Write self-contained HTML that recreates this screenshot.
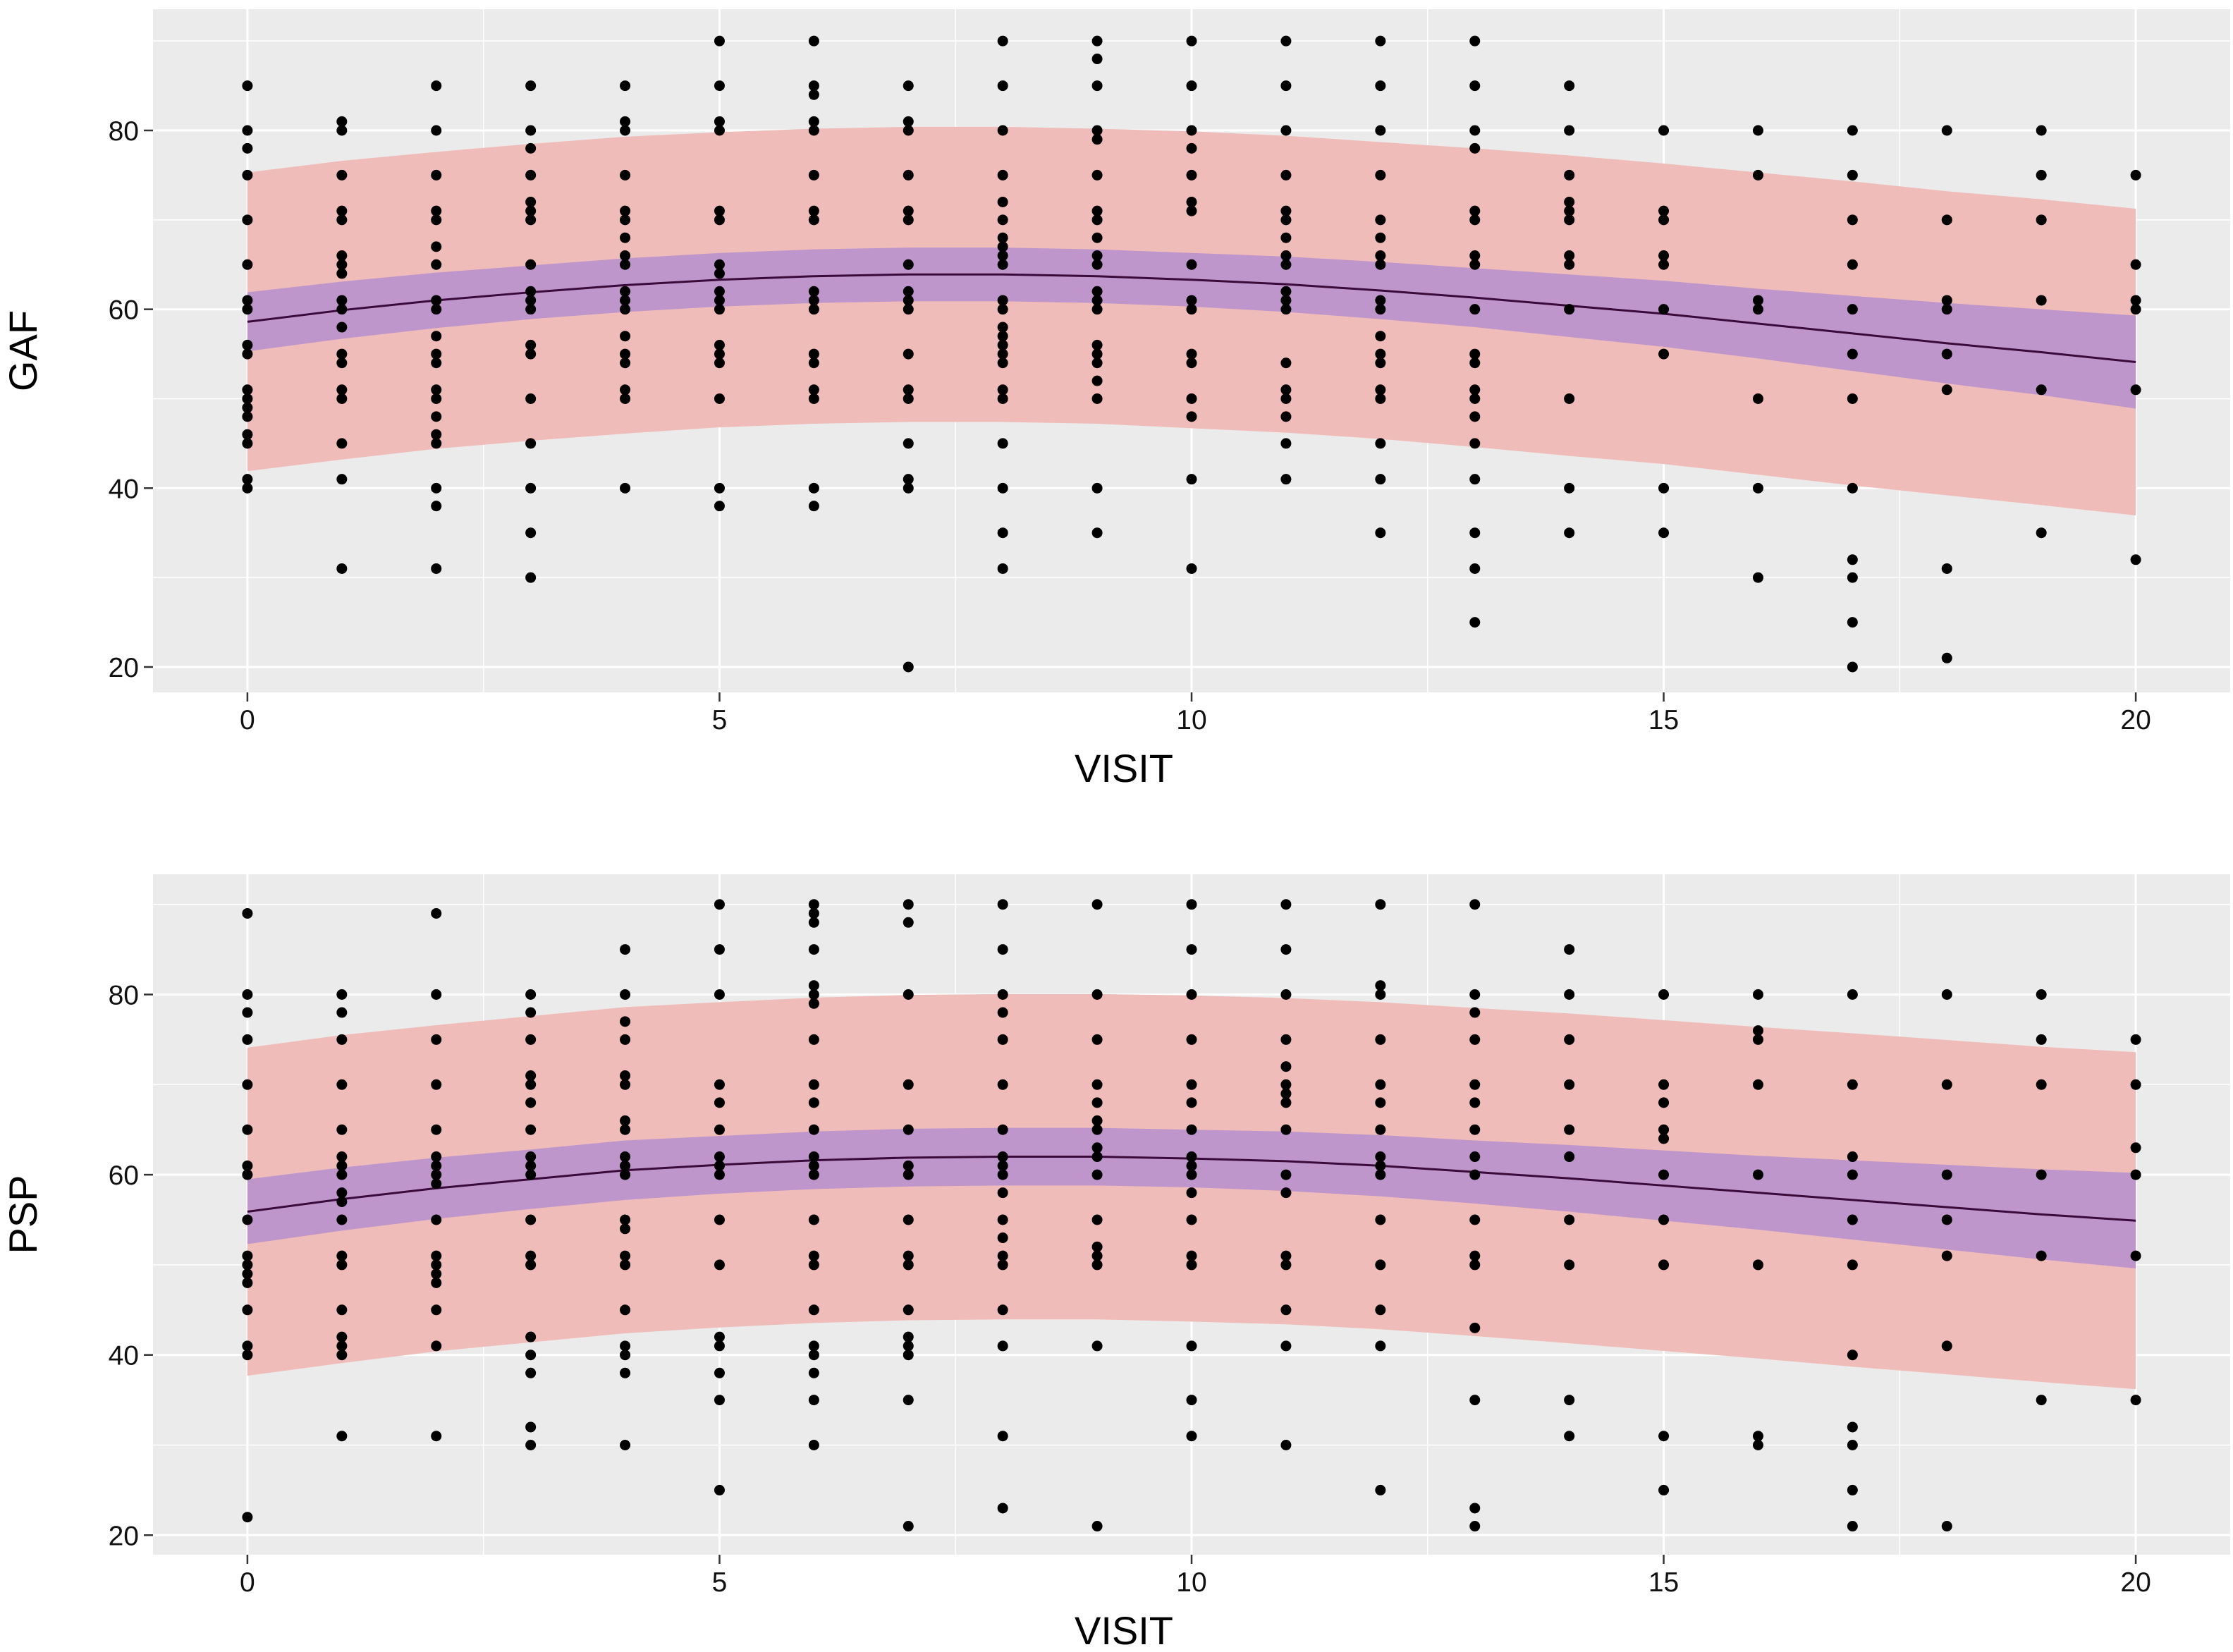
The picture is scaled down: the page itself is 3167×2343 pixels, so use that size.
<!DOCTYPE html>
<html><head><meta charset="utf-8"><style>
html,body{margin:0;padding:0;background:#fff;}
svg{display:block;font-family:"Liberation Sans",sans-serif;}
</style></head><body>
<svg id="chart" width="3167" height="2343" viewBox="0 0 3167 2343" xmlns="http://www.w3.org/2000/svg"></svg>
<script>
// ---------- data ----------
const visits = [0,1,2,3,4,5,6,7,8,9,10,11,12,13,14,15,16,17,18,19,20];
const xTicks = [0,5,10,15,20];
const yTicks = [20,40,60,80];

const gafPoints = [
 [85,80,78,75,70,65,61,60,56,55,51,50,49,48,46,45,41,40],
 [81,80,75,71,70,66,65,64,61,60,58,55,54,51,50,45,41,31],
 [85,80,75,71,70,67,65,61,60,57,55,54,51,50,48,46,45,40,38,31],
 [85,80,78,75,72,71,70,65,62,61,60,56,55,50,45,40,35,30],
 [85,81,80,75,71,70,68,66,65,62,61,60,57,55,54,51,50,40],
 [90,85,81,80,71,70,65,64,62,61,60,56,55,54,50,40,38],
 [90,85,84,81,80,75,71,70,62,61,60,55,54,51,50,40,38],
 [85,81,80,75,71,70,65,62,61,60,55,51,50,45,41,40,20],
 [90,85,80,75,72,70,68,67,66,65,61,60,58,57,56,55,54,51,50,45,40,35,31],
 [90,88,85,80,79,75,71,70,68,66,65,62,61,60,56,55,54,52,50,40,35],
 [90,85,80,78,75,72,71,65,61,60,55,54,50,48,41,31],
 [90,85,80,75,71,70,68,66,65,62,61,60,54,51,50,48,45,41],
 [90,85,80,75,70,68,66,65,61,60,57,55,54,51,50,45,41,35],
 [90,85,80,78,71,70,66,65,60,55,54,51,50,48,45,41,35,31,25],
 [85,80,75,72,71,70,66,65,60,50,40,35],
 [80,71,70,66,65,60,55,40,35],
 [80,75,61,60,50,40,30],
 [80,75,70,65,60,55,50,40,32,30,25,20],
 [80,70,61,60,55,51,31,21],
 [80,75,70,61,51,35],
 [75,65,61,60,51,32]
];
const gafFit = [58.6,59.9,61.0,61.9,62.7,63.3,63.7,63.9,63.9,63.7,63.3,62.8,62.1,61.3,60.4,59.5,58.4,57.3,56.2,55.2,54.1];
const gafCI = [3.3,3.2,3.1,3.0,3.0,3.0,3.0,3.0,3.0,3.0,3.0,3.1,3.2,3.3,3.5,3.7,3.9,4.2,4.5,4.8,5.2];
const gafPI = [16.7,16.7,16.6,16.6,16.6,16.5,16.5,16.5,16.5,16.5,16.6,16.6,16.6,16.7,16.8,16.8,16.9,17.0,17.0,17.1,17.15];

const pspPoints = [
 [89,80,78,75,70,65,61,60,55,51,50,49,48,45,41,40,22],
 [80,78,75,70,65,62,61,60,58,57,55,51,50,45,42,41,40,31],
 [89,80,75,70,65,62,61,60,59,55,51,50,49,48,45,41,31],
 [80,78,75,71,70,68,65,62,61,60,55,51,50,42,40,38,32,30],
 [85,80,77,75,71,70,66,65,62,61,60,55,54,51,50,45,41,40,38,30],
 [90,85,80,70,68,65,62,61,60,55,50,42,41,38,35,25],
 [90,89,88,85,81,80,79,75,70,68,65,62,61,60,55,51,50,45,41,40,38,35,30],
 [90,88,80,70,65,61,60,55,51,50,45,42,41,40,35,21],
 [90,85,80,78,75,70,65,62,61,60,58,55,53,51,50,45,41,31,23],
 [90,80,75,70,68,66,65,63,62,60,55,52,51,50,41,21],
 [90,85,80,75,70,68,65,62,61,60,58,55,51,50,41,35,31],
 [90,85,80,75,72,70,69,68,65,60,58,51,50,45,41,30],
 [90,81,80,75,70,68,65,62,61,60,55,50,45,41,25],
 [90,80,78,75,70,68,65,62,60,55,51,50,43,35,23,21],
 [85,80,75,70,65,62,55,50,35,31],
 [80,70,68,65,64,60,55,50,31,25],
 [80,76,75,70,60,50,31,30],
 [80,70,62,60,55,50,40,32,30,25,21],
 [80,70,60,55,51,41,21],
 [80,75,70,60,51,35],
 [75,70,63,60,51,35]
];
const pspFit = [55.9,57.3,58.5,59.5,60.5,61.1,61.6,61.9,62.0,62.0,61.8,61.5,61.0,60.3,59.6,58.8,58.0,57.2,56.4,55.6,54.9];
const pspCI = [3.6,3.5,3.4,3.3,3.3,3.2,3.2,3.2,3.2,3.2,3.2,3.3,3.4,3.5,3.7,3.9,4.1,4.4,4.7,5.0,5.3];
const pspPI = [18.2,18.2,18.1,18.1,18.1,18.05,18.05,18.05,18.05,18.05,18.1,18.1,18.15,18.2,18.3,18.35,18.4,18.5,18.55,18.6,18.7];

// ---------- drawing ----------
const NS = "http://www.w3.org/2000/svg";
const svg = document.getElementById('chart');
function mk(tag, attrs, parent){
  const e = document.createElementNS(NS, tag);
  for (const k in attrs) e.setAttribute(k, attrs[k]);
  (parent||svg).appendChild(e);
  return e;
}
const X0 = 217, X1 = 3163, XMIN = -1.0, XMAX = 21.0;
function xs(v){ return X0 + (v - XMIN) / (XMAX - XMIN) * (X1 - X0); }

function drawPanel(cfg){
  const ys = v => cfg.y80 + (80 - v) * cfg.ppu;
  const g = mk('g', {});
  
  
  const bg = mk('rect', {x:X0, y:cfg.top, width:X1-X0, height:cfg.bottom-cfg.top, fill:'#ebebeb'}, g);
  
  
  // minor grid
  for (let v = 10; v <= 90; v += 20) {
    const y = ys(v);
    if (y < cfg.top || y > cfg.bottom) continue;
    const l = mk('line', {x1:X0, x2:X1, y1:y, y2:y, stroke:'#fff', 'stroke-width':1.5}, g);
    
    
  }
  for (let v = 2.5; v < 21; v += 5) {
    const x = xs(v);
    const l = mk('line', {x1:x, x2:x, y1:cfg.top, y2:cfg.bottom, stroke:'#fff', 'stroke-width':1.5}, g);
    
    
  }
  // major grid + tick labels
  yTicks.forEach(v => {
    const y = ys(v);
    const l = mk('line', {x1:X0, x2:X1, y1:y, y2:y, stroke:'#fff', 'stroke-width':3}, g);
    
    
    const t = mk('line', {x1:X0-13, x2:X0, y1:y, y2:y, stroke:'#333', 'stroke-width':2.5}, g);
    
    
    const tx = mk('text', {x:X0-20, y:y+14, 'text-anchor':'end', 'font-size':39, fill:'#111'}, g);
    tx.textContent = v;
    
    
  });
  xTicks.forEach(v => {
    const x = xs(v);
    const l = mk('line', {x1:x, x2:x, y1:cfg.top, y2:cfg.bottom, stroke:'#fff', 'stroke-width':3}, g);
    
    
    const t = mk('line', {x1:x, x2:x, y1:cfg.bottom, y2:cfg.bottom+13, stroke:'#333', 'stroke-width':2.5}, g);
    
    
    const tx = mk('text', {x:x, y:cfg.bottom+52, 'text-anchor':'middle', 'font-size':39, fill:'#111'}, g);
    tx.textContent = v;
    
    
  });
  // ribbons
  function ribbon(half, fill, nm){
    let up = visits.map((v,i) => xs(v)+','+ys(cfg.fit[i]+half[i]));
    let lo = visits.map((v,i) => xs(v)+','+ys(cfg.fit[i]-half[i])).reverse();
    const p = mk('polygon', {points: up.concat(lo).join(' '), fill: fill}, g);
    
    
  }
  ribbon(cfg.pi, '#f0bcb9', cfg.name + '-prediction-band');
  ribbon(cfg.ci, '#bf96cb', cfg.name + '-confidence-band');
  const fl = mk('polyline', {points: visits.map((v,i)=>xs(v)+','+ys(cfg.fit[i])).join(' '), fill:'none', stroke:'#3a0a3a', 'stroke-width':3}, g);
  
  
  // points
  cfg.points.forEach((arr, i) => {
    arr.forEach(val => {
      const c = mk('ellipse', {cx: xs(visits[i]), cy: ys(val), rx:7.5, ry:7.5, fill:'#000'}, g);
      
      
    });
  });
  // axis titles
  const xt = mk('text', {x:1594, y:cfg.bottom+127, 'text-anchor':'middle', 'font-size':56, fill:'#000'}, g);
  xt.textContent = 'VISIT';
  
  
  const cy = (cfg.top + cfg.bottom) / 2;
  const yt = mk('text', {x:52, y:cy, 'text-anchor':'middle', 'font-size':56, fill:'#000', transform:'rotate(-90 52 '+cy+')'}, g);
  yt.textContent = cfg.label;
  
  
}

drawPanel({name:'gaf', label:'GAF', top:13, bottom:982, y80:185, ppu:12.683, points:gafPoints, fit:gafFit, ci:gafCI, pi:gafPI});
drawPanel({name:'psp', label:'PSP', top:1240, bottom:2205, y80:1410.5, ppu:12.78, points:pspPoints, fit:pspFit, ci:pspCI, pi:pspPI});
</script>
</body></html>
